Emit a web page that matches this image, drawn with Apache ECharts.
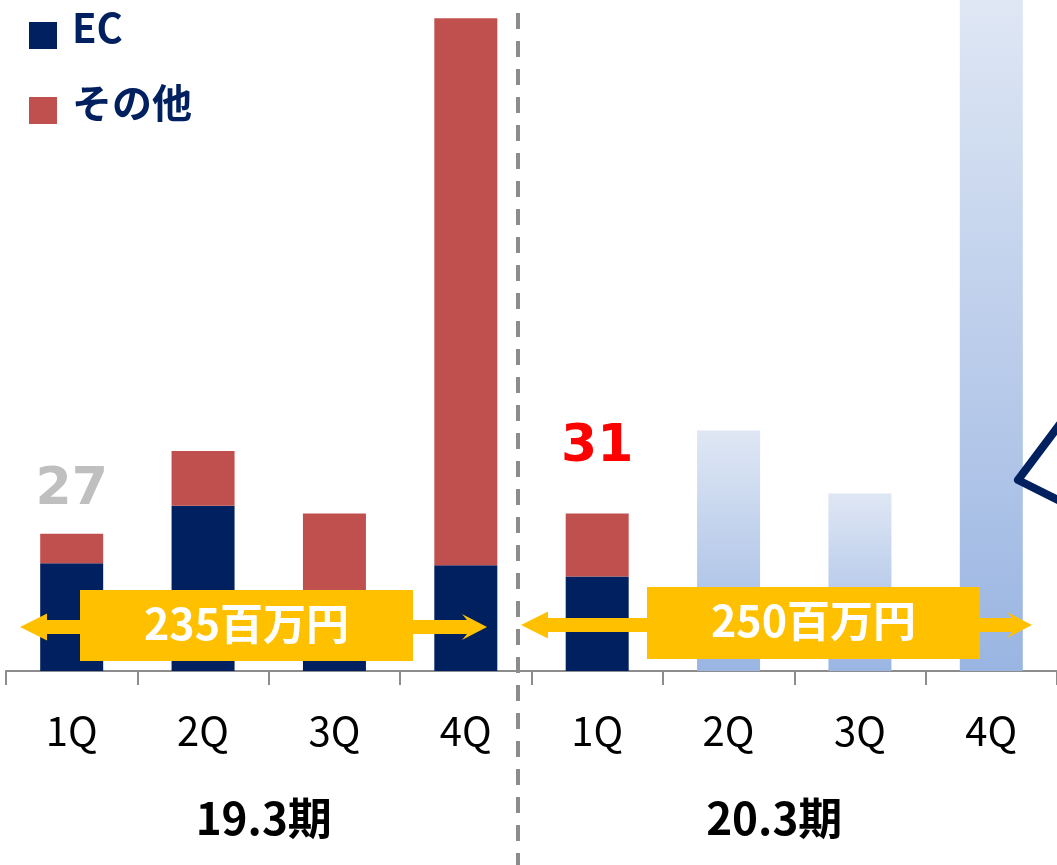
<!DOCTYPE html>
<html>
<head>
<meta charset="utf-8">
<script src="https://cdn.jsdelivr.net/npm/echarts@6/dist/echarts.min.js"></script>
<style>
html,body{margin:0;padding:0;background:#fff}
#chart{width:1057px;height:865px}
</style>
</head>
<body>
<div id="chart"></div>
<script>
// data
var quarters = ['1Q','2Q','3Q','4Q','1Q','2Q','3Q','4Q'];
var periods = ['19.3期','20.3期'];
var ecValues = [21.2, 32.5, 15, 20.8, 18.6, null, null, null];
var otherValues = [5.8, 10.8, 16, 107.6, 12.4, null, null, null];
var planValues = [null, null, null, null, null, 47.3, 34.9, 135];
var totalLabelIdx = [0, 4];
var rangeTexts = ['235百万円', '250百万円'];

var NAVY = '#002060', RED = '#C0504D', YELLOW = '#FFC000', GREY = '#8C8C8C';
var JP = '"Noto Sans CJK JP", "Noto Sans", sans-serif';

// label look for the two total labels (grey = last year, red = this year)
var totalLabelStyle = [
	{ color: '#BFBFBF', distance: 17 },
	{ color: '#FF0000', distance: 40 }
];

var otherData = otherValues.map(function(v, i){
	var item = { value: v };
	var k = totalLabelIdx.indexOf(i);
	if( k >= 0 ){
		item.label = {
			show: true, position: 'top',
			distance: totalLabelStyle[k].distance,
			color: totalLabelStyle[k].color,
			fontSize: 52, fontWeight: 'bold', fontFamily: '"DejaVu Sans", Verdana, sans-serif',
			formatter: String(Math.round(ecValues[i] + otherValues[i]))
		};
	}
	return item;
});

// small nudge so the period names sit where they do in the slide
var periodShift = [10, 40];
var periodData = periods.map(function(p, i){
	return { value: p, textStyle: { padding: [0, periodShift[i], 0, 0] } };
});

// yellow double arrow with box + text
var arrowGraphic = function( x1, x2, y, bx1, bx2, by1, by2, txt ){
	return [
		{ type: 'polygon', z: 100, shape: { points: [
			[x1, y], [x1 + 27, y - 13.5], [x1 + 27, y - 7], [x2 - 20, y - 7], [x2 - 25, y - 13],
			[x2, y], [x2 - 25, y + 13], [x2 - 20, y + 7], [x1 + 27, y + 7], [x1 + 27, y + 13.5]
		] }, style: { fill: YELLOW } },
		{ type: 'rect', z: 101, shape: { x: bx1, y: by1, width: bx2 - bx1, height: by2 - by1 }, style: { fill: YELLOW } },
		{ type: 'text', z: 102, x: (bx1 + bx2) / 2, y: (by1 + by2) / 2 - 2,
			style: { text: txt, fill: '#fff', font: 'bold 43px ' + JP, align: 'center', verticalAlign: 'middle' } }
	];
};

var graphics = [
	{ type: 'line', z: 90, shape: { x1: 518, y1: 13, x2: 518, y2: 865 },
		style: { stroke: GREY, lineWidth: 4, lineDash: [16, 12] } },
	{ type: 'polyline', z: 90, shape: { points: [[1066, 416], [1018, 480], [1066, 504]] },
		style: { stroke: NAVY, lineWidth: 8, lineJoin: 'round', fill: null } }
].concat(
	arrowGraphic(20, 487, 627, 80, 413, 590, 661, rangeTexts[0]),
	arrowGraphic(521, 1032, 625, 647, 980, 587, 659, rangeTexts[1])
);

var chart = echarts.init(document.getElementById('chart'));

var option = {
	animation: false,
	grid: { left: 6, right: -1, top: 0, bottom: 194 },
	legend: {
		data: ['EC', 'その他'],
		orient: 'vertical', left: 29, top: 7, padding: 0,
		// square sits low in its box, like in the slide
		icon: 'path://M0,0L0,0M0,15L28,15L28,42L0,42Z',
		itemWidth: 28, itemHeight: 42, itemGap: 33,
		textStyle: { fontSize: 40, fontWeight: 'bold', color: NAVY, fontFamily: JP, padding: [0, 0, 0, 10] }
	},
	xAxis: [
		{
			type: 'category', data: quarters,
			axisLine: { show: true, lineStyle: { color: GREY, width: 2 } },
			axisTick: { show: true, alignWithLabel: false, interval: 0, length: 14, lineStyle: { color: GREY, width: 2 } },
			axisLabel: { fontSize: 40, color: '#000', margin: 40, fontFamily: JP }
		},
		{
			type: 'category', data: periodData, position: 'bottom',
			axisLine: { show: false }, axisTick: { show: false },
			axisLabel: { fontSize: 44, fontWeight: 'bold', color: '#000', margin: 125, fontFamily: JP }
		}
	],
	yAxis: { type: 'value', min: 0, max: 132, show: false, splitLine: { show: false } },
	series: [
		{ name: 'EC', type: 'bar', stack: 'q', barWidth: 63, data: ecValues, itemStyle: { color: NAVY } },
		{ name: 'その他', type: 'bar', stack: 'q', barWidth: 63, data: otherData, itemStyle: { color: RED } },
		{ name: '計画', type: 'bar', stack: 'q', barWidth: 63, data: planValues,
			itemStyle: { color: new echarts.graphic.LinearGradient(0, 0, 0, 1, [
				{ offset: 0, color: '#DFE7F4' }, { offset: 1, color: '#9AB5E2' }
			]) } }
	],
	graphic: graphics
};

chart.setOption(option);
</script>
</body>
</html>
